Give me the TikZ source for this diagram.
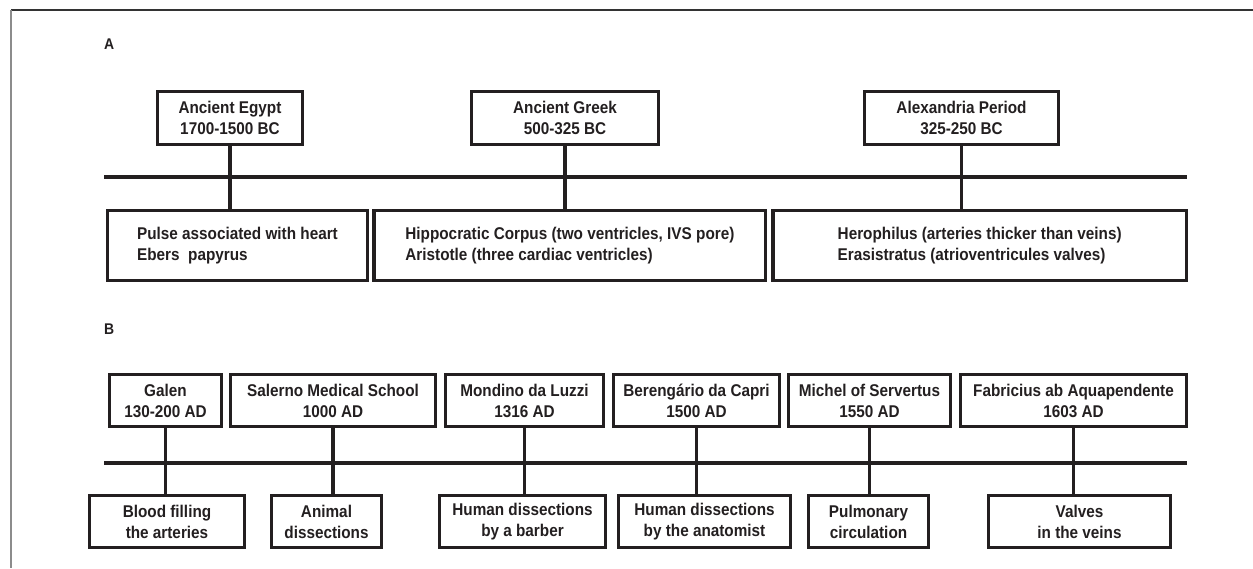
\documentclass[tikz,border=0pt]{standalone}
\usepackage{fontspec}
\setmainfont[FakeStretch=0.9]{Liberation Sans}
\usepackage{tikz}
\usetikzlibrary{positioning}
\definecolor{ink}{HTML}{231F20}
\tikzstyle{era} = [draw=ink, text=ink, line width=3.2pt, align=center, inner sep=0pt, font=\bfseries\fontsize{17}{21}\selectfont]
\tikzstyle{fact} = [era, align=left]
\tikzstyle{panel} = [text=ink, anchor=west, inner sep=0pt, font=\bfseries\fontsize{15.5}{17}\selectfont]
\tikzstyle{timeline} = [draw=ink, line width=3.2pt]
\tikzstyle{link} = [draw=ink, line width=3.2pt]

\begin{document}
\begin{tikzpicture}[x=1pt, y=-1pt, node distance=7pt]
	\useasboundingbox (0,0) rectangle (1253,568);
	\draw[black!80, line width=1.8pt] (11,10) -- (1253,10);
	\draw[black!45, line width=1.5pt] (11,10) -- (11,568);

	% A
	\node[panel](labelA) at (104,44) {A};
	\node[era, minimum width=144.8, minimum height=52.8](egypt) at (230,118) {Ancient Egypt\\1700-1500 BC};
	\node[era, minimum width=186.8, minimum height=52.8](greek) at (565,118) {Ancient Greek\\500-325 BC};
	\node[era, minimum width=193.8, minimum height=52.8](alexandria) at (961.5,118) {Alexandria Period\\325-250 BC};

	\node[fact, minimum width=259.8, minimum height=69.8](pulse) at (237.5,245.5) {Pulse associated with heart\\Ebers\ \ papyrus};
	\node[fact, minimum width=391.8, minimum height=69.8, right=3.4pt of pulse](hippocratic) {Hippocratic Corpus (two ventricles, IVS pore)\\Aristotle (three cardiac ventricles)};
	\node[fact, minimum width=413.4, minimum height=69.8, right=4pt of hippocratic](herophilus) {Herophilus (arteries thicker than veins)\\Erasistratus (atrioventricules valves)};

	\coordinate(startA) at (104,177);
	\coordinate(endA) at (1187,177);
	\draw[timeline] (startA) -- (endA);

	\draw[link] (egypt.south) -- (egypt.south |- pulse.north);
	\draw[link] (greek.south) -- (greek.south |- hippocratic.north);
	\draw[link] (alexandria.south) -- (alexandria.south |- herophilus.north);

	% B
	\node[panel](labelB) at (104,329) {B};
	\node[era, minimum width=111.8, minimum height=51.8](galen) at (165.5,400.5) {Galen\\130-200 AD};
	\node[era, minimum width=204.8, minimum height=51.8, right=6pt of galen](salerno) {Salerno Medical School\\1000 AD};
	\node[era, minimum width=157.8, minimum height=51.8, right= of salerno](mondino) {Mondino da Luzzi\\1316 AD};
	\node[era, minimum width=165.8, minimum height=51.8, right= of mondino](berengario) {Berengário da Capri\\1500 AD};
	\node[era, minimum width=161.8, minimum height=51.8, right=6pt of berengario](servertus) {Michel of Servertus\\1550 AD};
	\node[era, minimum width=225.8, minimum height=51.8, right= of servertus](fabricius) {Fabricius ab Aquapendente\\1603 AD};

	\node[era, minimum width=154.8, minimum height=51.8](blood) at (167,521.5) {Blood filling\\the arteries};
	\node[era, minimum width=109.8, minimum height=51.8](animal) at (326.5,521.5) {Animal\\dissections};
	\node[era, minimum width=165.8, minimum height=51.8](barber) at (522.5,521.5) {Human dissections\\by a barber};
	\node[era, minimum width=171.8, minimum height=51.8](anatomist) at (704.5,521.5) {Human dissections\\by the anatomist};
	\node[era, minimum width=119.8, minimum height=51.8](pulmonary) at (868.5,521.5) {Pulmonary\\circulation};
	\node[era, minimum width=181.8, minimum height=51.8](valves) at (1079.5,521.5) {Valves\\in the veins};

	\coordinate(startB) at (104,463);
	\coordinate(endB) at (1187,463);
	\draw[timeline] (startB) -- (endB);

	\draw[link] (galen.south) -- (galen.south |- blood.north);
	\draw[link] (salerno.south) -- (salerno.south |- animal.north);
	\draw[link] (mondino.south) -- (mondino.south |- barber.north);
	\draw[link] (berengario.south) -- (berengario.south |- anatomist.north);
	\draw[link] (servertus.south) -- (servertus.south |- pulmonary.north);
	\draw[link] (fabricius.south) -- (fabricius.south |- valves.north);

\end{tikzpicture}
\end{document}
